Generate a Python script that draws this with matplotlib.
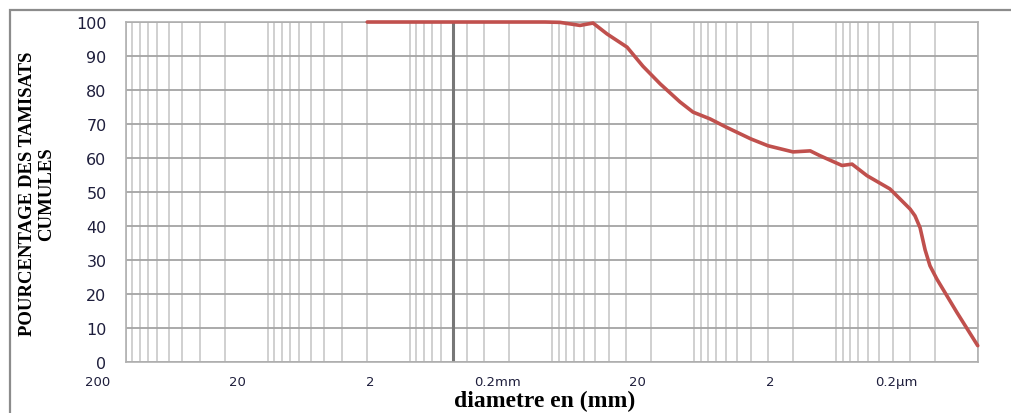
import matplotlib.pyplot as plt
from matplotlib.patches import Rectangle
from matplotlib.ticker import LogLocator, NullFormatter, FixedLocator

# grain size curve, diameter in mm vs cumulative passing %
diam_mm = [2.0, 1.0, 0.5, 0.2, 0.112, 0.088, 0.0635, 0.0514, 0.0410, 0.0296,
           0.0229, 0.0173, 0.01256, 0.01016, 0.00771, 0.00595, 0.00397,
           0.00301, 0.00201, 0.00152, 0.0013, 0.000908, 0.000771, 0.000605,
           0.000417, 0.000301, 0.000278, 0.000256, 0.000236, 0.000218,
           0.000195, 0.000141, 0.0001005]
passing = [100, 100, 100, 100, 100, 99.9, 99.0, 99.7, 96.5, 92.6,
           87.0, 81.8, 76.5, 73.5, 71.5, 69.1, 65.6,
           63.6, 61.8, 62.1, 60.7, 57.8, 58.2, 54.8,
           50.9, 45.0, 43.0, 39.5, 33.0, 28.3,
           24.4, 14.6, 4.8]

xtick_text = ['200', '20', '2', '0.2mm', '20', '2', '0.2\u00b5m']
xtick_pos = [-0.0329, 0.1303, 0.2864, 0.4366, 0.5998, 0.7559, 0.9038]  # axes fraction
yticks = list(range(0, 101, 10))
marked_diam = 0.5

fig = plt.figure(figsize=(10.11, 4.14), dpi=100)
ax = fig.add_axes([0.1246, 0.1232, 0.8428, 0.8212])

ax.set_xscale('log')
ax.set_xlim(100, 1e-4)
ax.set_ylim(0, 100)

# grid
ax.xaxis.set_major_locator(LogLocator(base=10, numticks=20))
ax.xaxis.set_minor_locator(LogLocator(base=10, subs=range(2, 10), numticks=20))
ax.xaxis.set_major_formatter(NullFormatter())
ax.xaxis.set_minor_formatter(NullFormatter())
ax.yaxis.set_major_locator(FixedLocator(yticks))
ax.grid(True, which='both', axis='x', color='#c4c4c4', linewidth=1.1)
ax.grid(True, which='major', axis='y', color='#a4a4a4', linewidth=1.3)
ax.axvline(marked_diam, color='#777777', linewidth=2.2, zorder=1.5)
ax.set_axisbelow(True)

for s in ax.spines.values():
    s.set_color('#b0b0b0')
    s.set_linewidth(1.2)

ax.tick_params(axis='both', which='both', length=0)
ax.tick_params(axis='y', pad=14, labelsize=11.5, labelcolor='#1e1e3c')
ax.set_yticklabels([str(v) for v in yticks])

ax.plot(diam_mm, passing, color='#c0504d', linewidth=2.6,
        solid_joinstyle='round', solid_capstyle='round', zorder=3, clip_on=False)

for t, p in zip(xtick_text, xtick_pos):
    ax.text(p, -0.056, t, transform=ax.transAxes, ha='center', va='center',
            fontsize=9.5, color='#1e1e3c')

fig.text(0.0366, 0.531, 'POURCENTAGE DES TAMISATS\nCUMULES', rotation=90,
         ha='center', va='center', multialignment='center', linespacing=1.1,
         fontsize=13.5, fontweight='bold', family='Liberation Serif')
fig.text(0.539, 0.031, 'diametre en (mm)', ha='center', va='center',
         fontsize=17, fontweight='bold', family='Liberation Serif')

# chart frame (only left and top visible)
fig.patches.append(Rectangle((10 / 1011, -0.1), 1.2, (414 - 11) / 414 + 0.1,
                             transform=fig.transFigure, fill=False,
                             edgecolor='#8c8c8c', linewidth=1.6))

fig.savefig('out.png', dpi=100)
